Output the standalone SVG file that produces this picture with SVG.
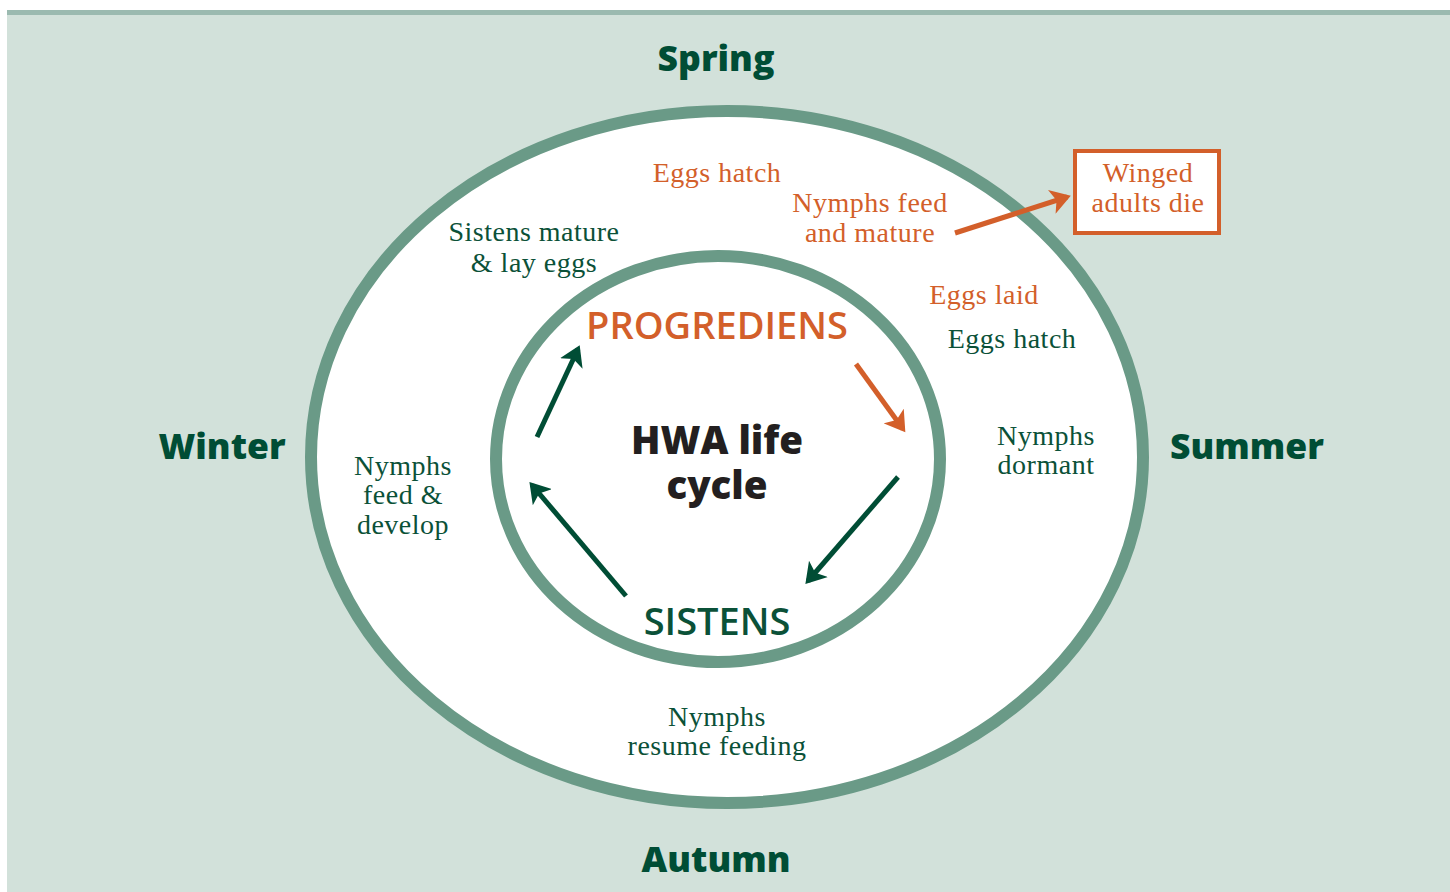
<svg xmlns="http://www.w3.org/2000/svg" width="1450" height="892" viewBox="0 0 1450 892">
<defs>
<style>
.season{font-family:"Open Sans","Liberation Sans",sans-serif;font-weight:800;font-size:35.5px;fill:#004d35;text-anchor:middle}
.serif{font-family:"Liberation Serif",serif;font-size:28px;letter-spacing:0.5px;text-anchor:middle}
.g{fill:#0b5138}
.o{fill:#d35f2a}
.stage{font-family:"Open Sans","Liberation Sans",sans-serif;font-weight:600;font-size:38px;text-anchor:middle}
.title{font-family:"Open Sans","Liberation Sans",sans-serif;font-weight:800;font-size:38.5px;fill:#231f20;text-anchor:middle}
.ring{fill:#fff;stroke:#6a9a87;stroke-width:12}
.ag{stroke:#004d35;stroke-width:5;fill:none;marker-end:url(#mg)}
.ao{stroke:#d35f2a;stroke-width:5;fill:none;marker-end:url(#mo)}
</style>
<marker id="mg" markerWidth="5" markerHeight="5" refX="3.2" refY="2.5" orient="auto" markerUnits="strokeWidth"><path d="M0,0 L4,2.5 L0,5 L1,2.5 Z" fill="#004d35"/></marker>
<marker id="mo" markerWidth="5" markerHeight="5" refX="3.2" refY="2.5" orient="auto" markerUnits="strokeWidth"><path d="M0,0 L4,2.5 L0,5 L1,2.5 Z" fill="#d35f2a"/></marker>
</defs>
<rect x="0" y="0" width="1450" height="892" fill="#ffffff"/>
<rect x="7" y="10" width="1443" height="882" fill="#d2e1da"/>
<rect x="7" y="10" width="1443" height="5" fill="#9bbab0"/>
<g id="outer-ring"><ellipse class="ring" cx="727" cy="457" rx="416" ry="346"/></g>
<g id="inner-ring"><ellipse class="ring" cx="718" cy="459" rx="222" ry="203"/></g>
<g id="seasons">
<text class="season" x="716" y="71">Spring</text>
<text class="season" x="222" y="459">Winter</text>
<text class="season" x="1247" y="459">Summer</text>
<text class="season" x="716" y="872">Autumn</text>
</g>
<g id="title"><text class="title" x="717" y="454">HWA life</text><text class="title" x="717" y="499">cycle</text></g>
<g id="progrediens"><text class="stage o" x="717" y="339">PROGREDIENS</text></g>
<g id="sistens"><text class="stage g" x="717" y="635">SISTENS</text></g>
<g id="eggs-hatch-spring"><text class="serif o" x="717" y="182">Eggs hatch</text></g>
<g id="nymphs-feed-mature"><text class="serif o" x="870" y="212">Nymphs feed</text><text class="serif o" x="870" y="242">and mature</text></g>
<g id="sistens-mature"><text class="serif g" x="534" y="241">Sistens mature</text><text class="serif g" x="534" y="272">&amp; lay eggs</text></g>
<g id="eggs-laid"><text class="serif o" x="984" y="304">Eggs laid</text></g>
<g id="eggs-hatch-summer"><text class="serif g" x="1012" y="348">Eggs hatch</text></g>
<g id="nymphs-dormant"><text class="serif g" x="1046" y="445">Nymphs</text><text class="serif g" x="1046" y="474">dormant</text></g>
<g id="nymphs-feed-develop"><text class="serif g" x="403" y="475">Nymphs</text><text class="serif g" x="403" y="504">feed &amp;</text><text class="serif g" x="403" y="534">develop</text></g>
<g id="nymphs-resume"><text class="serif g" x="717" y="726">Nymphs</text><text class="serif g" x="717" y="755">resume feeding</text></g>
<g id="winged-adults">
<rect x="1075" y="151" width="144" height="82" fill="#fff" stroke="#d35f2a" stroke-width="4"/>
<text class="serif o" x="1148" y="182">Winged</text><text class="serif o" x="1148" y="212">adults die</text>
</g>
<g id="connectors">
<line class="ag" x1="537" y1="437" x2="578" y2="349"/>
<line class="ao" x1="856" y1="364" x2="903" y2="429"/>
<line class="ag" x1="898" y1="477" x2="808" y2="581"/>
<line class="ag" x1="626" y1="596" x2="532" y2="485"/>
<line class="ao" x1="955" y1="233" x2="1067" y2="197"/>
</g>
</svg>
